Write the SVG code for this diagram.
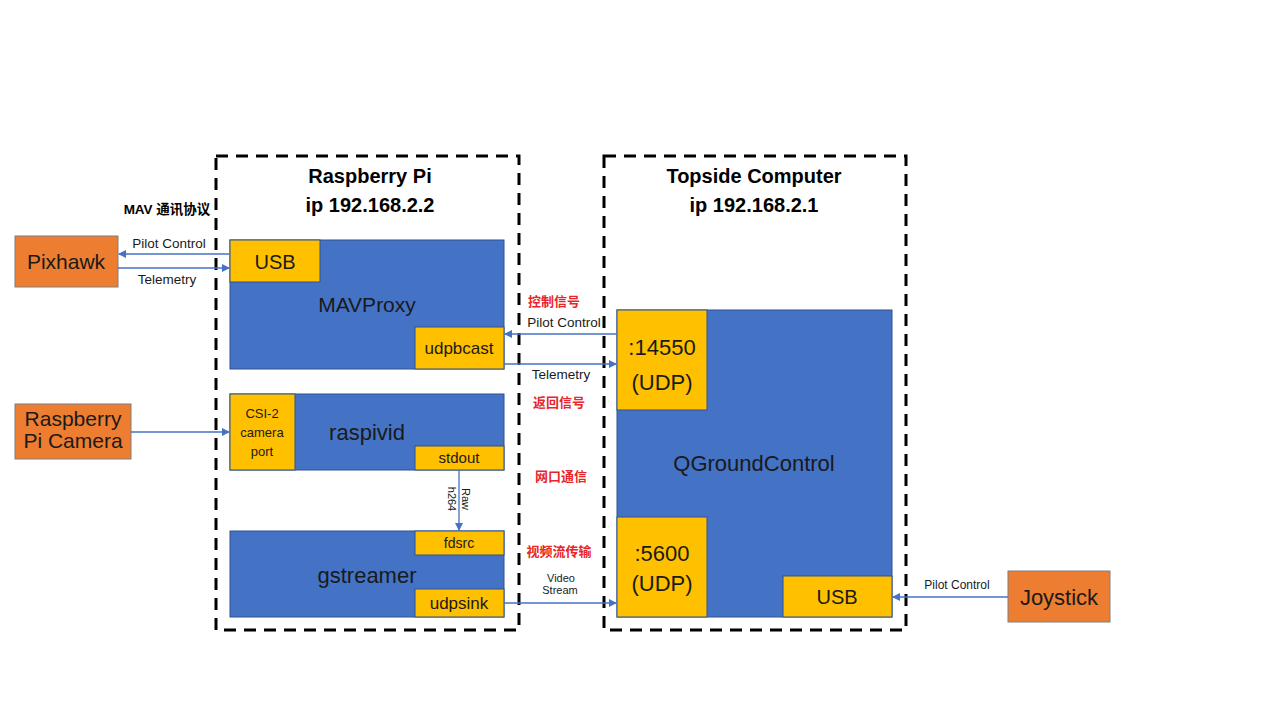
<svg xmlns="http://www.w3.org/2000/svg" width="1280" height="720" viewBox="0 0 1280 720">
<defs>
<marker id="ah" markerWidth="8" markerHeight="8" refX="7" refY="4" orient="auto" markerUnits="userSpaceOnUse">
<path d="M0,0 L8,4 L0,8 Z" fill="#4472C4"/>
</marker>
<style>
text{font-family:"Liberation Sans","Noto Sans CJK SC",sans-serif;text-anchor:middle;fill:#1a1a1a}
.frame{fill:none;stroke:#000;stroke-width:3;stroke-dasharray:12,8}
.blue{fill:#4472C4;stroke:#2F528F;stroke-width:1}
.yel{fill:#FFC000;stroke:#2F528F;stroke-width:1}
.org{fill:#ED7D31;stroke:#7F7F7F;stroke-width:1}
.t22{font-size:22px}
.t21{font-size:21px}
.t20{font-size:20px}
.t17{font-size:17px}
.t15{font-size:15px}
.t14{font-size:14px}
.t13{font-size:13px}
.t12{font-size:12px}
.t11{font-size:11px}
.title{font-size:20px;font-weight:bold;fill:#000}
.red{font-size:13px;font-weight:bold;fill:#E8262A}
.c{fill:none;stroke:#4472C4;stroke-width:1.3;marker-end:url(#ah)}
</style>
</defs>
<rect width="1280" height="720" fill="#fff"/>

<g id="raspberry-pi">
<rect class="frame" x="216" y="156" width="303" height="474"/>
<text class="title" x="370" y="183">Raspberry Pi</text>
<text class="title" x="370" y="212">ip 192.168.2.2</text>
</g>
<g id="topside">
<rect class="frame" x="604" y="156" width="302" height="474"/>
<text class="title" x="754" y="183">Topside Computer</text>
<text class="title" x="754" y="212">ip 192.168.2.1</text>
</g>

<g id="mavproxy">
<rect class="blue" x="230" y="240" width="274" height="129"/>
<text class="t21" x="367" y="312">MAVProxy</text>
</g>
<g id="mav-usb">
<rect class="yel" x="230" y="240" width="90" height="42"/>
<text class="t20" x="275" y="269">USB</text>
</g>
<g id="udpbcast">
<rect class="yel" x="415" y="327" width="89" height="42"/>
<text class="t17" x="459" y="354">udpbcast</text>
</g>

<g id="raspivid">
<rect class="blue" x="230" y="394" width="274" height="76"/>
<text class="t22" x="367" y="440">raspivid</text>
</g>
<g id="csi">
<rect class="yel" x="230" y="394" width="65" height="76"/>
<text class="t13" x="262" y="418">CSI-2</text>
<text class="t13" x="262" y="437">camera</text>
<text class="t13" x="262" y="456">port</text>
</g>
<g id="stdout">
<rect class="yel" x="415" y="446" width="89" height="24"/>
<text class="t15" x="459" y="463">stdout</text>
</g>

<g id="gstreamer">
<rect class="blue" x="230" y="531" width="274" height="86"/>
<text class="t22" x="367" y="583">gstreamer</text>
</g>
<g id="fdsrc">
<rect class="yel" x="415" y="531" width="89" height="24"/>
<text class="t14" x="459" y="548">fdsrc</text>
</g>
<g id="udpsink">
<rect class="yel" x="415" y="589" width="89" height="28"/>
<text class="t17" x="459" y="609">udpsink</text>
</g>

<g id="qgc">
<rect class="blue" x="617" y="310" width="275" height="307"/>
<text class="t22" x="754" y="471">QGroundControl</text>
</g>
<g id="port14550">
<rect class="yel" x="617" y="310" width="90" height="100"/>
<text class="t22" x="662" y="355">:14550</text>
<text class="t22" x="662" y="390">(UDP)</text>
</g>
<g id="port5600">
<rect class="yel" x="617" y="517" width="90" height="100"/>
<text class="t22" x="662" y="561">:5600</text>
<text class="t22" x="662" y="591">(UDP)</text>
</g>
<g id="qgc-usb">
<rect class="yel" x="783" y="576" width="109" height="41"/>
<text class="t20" x="837" y="604">USB</text>
</g>

<g id="pixhawk">
<rect class="org" x="15" y="236" width="103" height="51"/>
<text class="t21" x="66" y="269">Pixhawk</text>
</g>
<g id="camera">
<rect class="org" x="15" y="404" width="116" height="55"/>
<text class="t21" x="73" y="426">Raspberry</text>
<text class="t21" x="73" y="448">Pi Camera</text>
</g>
<g id="joystick">
<rect class="org" x="1008" y="571" width="102" height="51"/>
<text class="t22" x="1059" y="605">Joystick</text>
</g>

<g id="connectors">
<line class="c" x1="230" y1="254" x2="119" y2="254"/>
<line class="c" x1="118" y1="268" x2="229" y2="268"/>
<line class="c" x1="617" y1="334" x2="505" y2="334"/>
<line class="c" x1="504" y1="364" x2="616" y2="364"/>
<line class="c" x1="131" y1="432" x2="229" y2="432"/>
<line class="c" x1="459" y1="470" x2="459" y2="530"/>
<line class="c" x1="504" y1="603" x2="616" y2="603"/>
<line class="c" x1="1008" y1="597" x2="893" y2="597"/>
</g>

<g id="labels">
<text x="169" y="248" style="font-size:13.5px">Pilot Control</text>
<text x="167" y="284" style="font-size:13.5px">Telemetry</text>
<text x="167" y="214" style="font-size:13.5px;font-weight:bold;fill:#000">MAV 通讯协议</text>
<text x="564" y="327" style="font-size:13.5px">Pilot Control</text>
<text x="561" y="379" style="font-size:13.5px">Telemetry</text>
<text class="red" x="554" y="306">控制信号</text>
<text class="red" x="559" y="407">返回信号</text>
<text class="red" x="561" y="481">网口通信</text>
<text class="red" x="559" y="556">视频流传输</text>
<text class="t11" x="561" y="582">Video</text>
<text class="t11" x="560" y="594">Stream</text>
<text class="t12" x="957" y="589">Pilot Control</text>
<g transform="translate(458,499) rotate(90)">
<text class="t11" x="0" y="-4">Raw</text>
<text class="t11" x="0" y="10">h264</text>
</g>
</g>
</svg>
